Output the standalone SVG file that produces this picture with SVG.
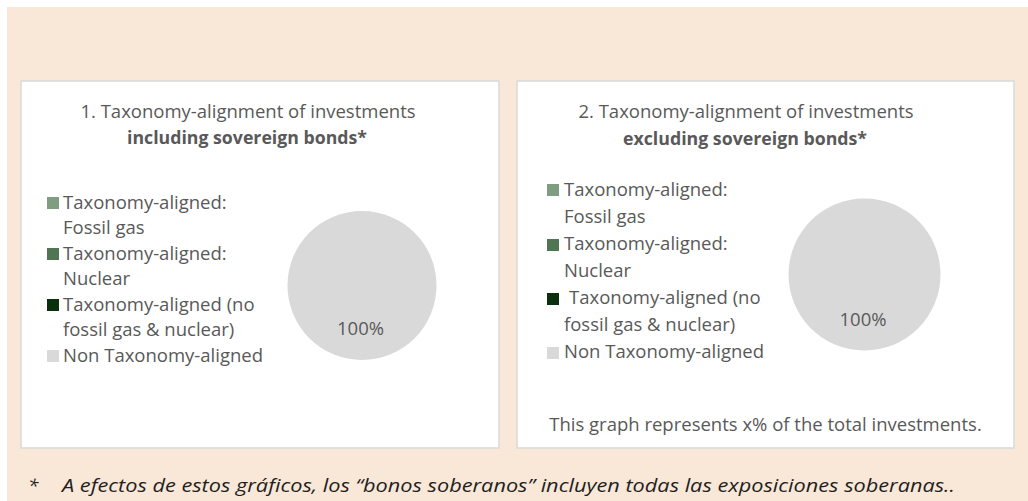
<svg xmlns="http://www.w3.org/2000/svg" width="1028" height="501" viewBox="0 0 1028 501">
<style>
.bg{fill:#F9E8D8}
.panel{fill:#FFFFFF;stroke:#D9D9D9;stroke-width:1.5}
.t{font-family:"Open Sans","Liberation Sans",sans-serif;font-size:18.5px;fill:#595959}
.b{font-weight:bold}
.m{text-anchor:middle}
.pie{fill:#D9D9D9}
.fg{fill:#7F9D80}
.nu{fill:#4F7552}
.nf{fill:#0B300D}
.na{fill:#D9D9D9}
.foot{font-family:"Open Sans","Liberation Sans",sans-serif;font-size:19px;font-style:italic;fill:#1F1F1F}
</style>
<rect class="bg" x="7" y="7" width="1021" height="494"/>
<g id="chart1">
<rect class="panel" x="21" y="81" width="478" height="367"/>
<text class="t m" x="248" y="118">1. Taxonomy-alignment of investments</text>
<text class="t b m" x="247" y="144" textLength="240" lengthAdjust="spacingAndGlyphs">including sovereign bonds*</text>
<rect class="fg" x="47" y="197" width="12" height="12"/>
<text class="t" x="63" y="209">Taxonomy-aligned:</text>
<text class="t" x="63" y="234">Fossil gas</text>
<rect class="nu" x="47" y="248" width="12" height="12"/>
<text class="t" x="63" y="260">Taxonomy-aligned:</text>
<text class="t" x="63" y="285">Nuclear</text>
<rect class="nf" x="47" y="299" width="12" height="12"/>
<text class="t" x="63" y="311">Taxonomy-aligned (no</text>
<text class="t" x="63" y="336">fossil gas &amp; nuclear)</text>
<rect class="na" x="47" y="350" width="12" height="12"/>
<text class="t" x="63" y="362">Non Taxonomy-aligned</text>
<circle class="pie" cx="362" cy="285.5" r="74.5"/>
<text class="t m" x="360.5" y="335">100%</text>
</g>
<g id="chart2">
<rect class="panel" x="517" y="81" width="497" height="367"/>
<text class="t m" x="746" y="118">2. Taxonomy-alignment of investments</text>
<text class="t b m" x="745" y="145" textLength="244" lengthAdjust="spacingAndGlyphs">excluding sovereign bonds*</text>
<rect class="fg" x="547" y="184" width="12" height="12"/>
<text class="t" x="564" y="196">Taxonomy-aligned:</text>
<text class="t" x="564" y="223">Fossil gas</text>
<rect class="nu" x="547" y="239" width="12" height="12"/>
<text class="t" x="564" y="250">Taxonomy-aligned:</text>
<text class="t" x="564" y="277">Nuclear</text>
<rect class="nf" x="547" y="293" width="12" height="12"/>
<text class="t" x="569" y="304">Taxonomy-aligned (no</text>
<text class="t" x="564" y="331">fossil gas &amp; nuclear)</text>
<rect class="na" x="547" y="347" width="12" height="12"/>
<text class="t" x="564" y="358">Non Taxonomy-aligned</text>
<circle class="pie" cx="864.5" cy="274.5" r="76"/>
<text class="t m" x="863" y="326">100%</text>
<text class="t m" x="765.5" y="431">This graph represents x% of the total investments.</text>
</g>
<g id="footnote">
<text class="foot" x="28" y="492">*</text>
<text class="foot" x="62" y="492" textLength="893" lengthAdjust="spacingAndGlyphs">A efectos de estos gráficos, los “bonos soberanos” incluyen todas las exposiciones soberanas..</text>
</g>
</svg>
